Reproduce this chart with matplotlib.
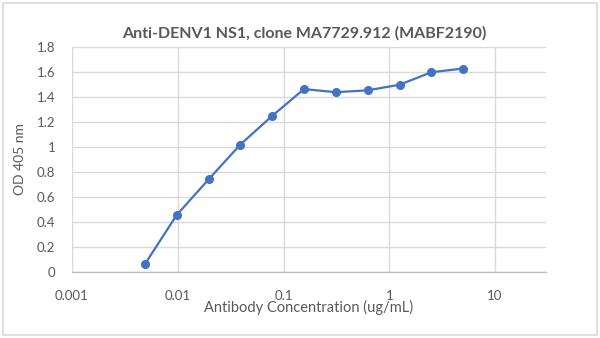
import numpy as np
import matplotlib
matplotlib.use("Agg")
import matplotlib.pyplot as plt
from matplotlib.patches import Rectangle
from matplotlib.ticker import FixedLocator, FuncFormatter

# serial 2-fold dilution starting at 5 ug/mL
concentracion = [5 / 2 ** k for k in range(10, -1, -1)]
od405 = [0.06, 0.455, 0.74, 1.02, 1.25, 1.465, 1.44, 1.455, 1.50, 1.60, 1.63]

x_ticks = [0.001, 0.01, 0.1, 1, 10]
x_labels = ["0.001", "0.01", "0.1", "1", "10"]
y_ticks = [0, 0.2, 0.4, 0.6, 0.8, 1, 1.2, 1.4, 1.6, 1.8]

plt.rcParams['font.family'] = ['Lato', 'DejaVu Sans']
gris_texto = '#595959'
gris_rejilla = '#d9d9d9'
azul = '#4472C4'

fig = plt.figure(figsize=(6, 3.38), dpi=100)
ax = fig.add_axes([0.12, 0.196, 0.79, 0.664])

ax.plot(concentracion, od405, color=azul, linewidth=1.6, marker='o',
        markersize=5.5, zorder=3)

ax.set_xscale('log')
ax.set_xlim(0.001, 10 ** 1.482)
ax.set_ylim(0, 1.8)
ax.xaxis.set_major_locator(FixedLocator(x_ticks))
ax.xaxis.set_minor_locator(FixedLocator([]))
ax.xaxis.set_major_formatter(FuncFormatter(lambda v, p: x_labels[x_ticks.index(v)] if v in x_ticks else ""))
ax.set_yticks(y_ticks)
ax.set_yticklabels(["0", "0.2", "0.4", "0.6", "0.8", "1", "1.2", "1.4", "1.6", "1.8"])

ax.grid(True, color=gris_rejilla, linewidth=1.0)
ax.set_axisbelow(True)
for lado in ['top', 'right', 'left']:
    ax.spines[lado].set_visible(False)
ax.spines['bottom'].set_color('#bfbfbf')
ax.spines['bottom'].set_linewidth(1.0)
ax.tick_params(length=0, labelsize=9.5, colors=gris_texto)
ax.tick_params(axis='x', pad=13)
ax.tick_params(axis='y', pad=12)

ax.set_xlabel('Antibody Concentration (ug/mL)', fontsize=10.5, color=gris_texto, labelpad=-1)
ax.set_ylabel('OD 405 nm', fontsize=10, color=gris_texto, labelpad=8)
fig.text(0.507, 0.9, 'Anti-DENV1 NS1, clone MA7729.912 (MABF2190)', ha='center', va='center',
         fontsize=11.5, color=gris_texto, fontweight='bold')

# borde del área del gráfico
fig.patches.append(Rectangle((0.005, 0.008), 0.99, 0.984, transform=fig.transFigure,
                             fill=False, edgecolor=gris_rejilla, linewidth=1.2))

fig.savefig('out.png', dpi=100)
